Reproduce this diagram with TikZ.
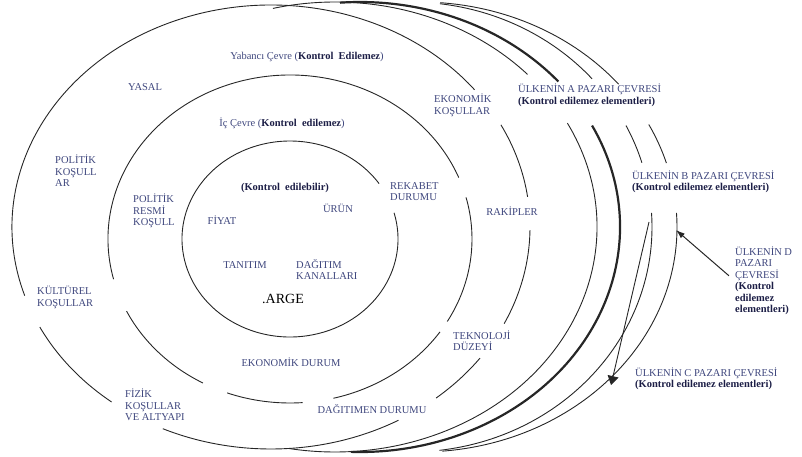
\documentclass[tikz,border=0pt]{standalone}
\usepackage{fontspec}
\setmainfont{Liberation Serif}
\usetikzlibrary{arrows.meta}
\definecolor{lblblue}{RGB}{62,70,125}
\definecolor{lbldark}{RGB}{28,30,70}
\newcommand{\lblsize}{\fontsize{10.5}{11.5}\selectfont}
\newcommand{\kb}[1]{\textcolor{lbldark}{\textbf{#1}}}
\tikzset{
  ring/.style    ={draw=black!85, line width=0.9pt},
  ringbold/.style={ring, line width=2.2pt},
  lbl/.style     ={font=\lblsize, text=lblblue, inner sep=0pt, align=left},
  lblw/.style    ={lbl, anchor=west},
  arr/.style     ={-{Latex[length=9pt,width=6pt]}, draw=black!85, line width=1pt},
  arrc/.style    ={-{Triangle[length=9pt,width=11pt]}, draw=black!85, line width=0.9pt},
}
\begin{document}
\begin{tikzpicture}[x=1pt, y=-1pt]
\useasboundingbox (0,0) rectangle (802,457);
% centres of the rings
\coordinate (cY) at (271,227);
\coordinate (cM) at (290,239);
\coordinate (c1) at (335,227);
\coordinate (c2) at (360,227);
\coordinate (c3) at (410,227);
\coordinate (c4) at (420,227);

% inner ring (kontrol edilebilir)
\draw[ring] (cM) ++(-15.5:108 and 98) arc[start angle=-15.5, end angle=325.6, x radius=108, y radius=98];

% ic cevre
\draw[ring] (cM) ++(-14.7:182 and 164) arc[start angle=-14.7, end angle=30.2, x radius=182, y radius=164];
\draw[ring] (cM) ++(34.5:182 and 164) arc[start angle=34.5, end angle=76.2, x radius=182, y radius=164];
\draw[ring] (cM) ++(86:182 and 164) arc[start angle=86, end angle=110.2, x radius=182, y radius=164];
\draw[ring] (cM) ++(118.6:182 and 164) arc[start angle=118.6, end angle=153.9, x radius=182, y radius=164];
\draw[ring] (cM) ++(165.8:182 and 164) arc[start angle=165.8, end angle=338, x radius=182, y radius=164];

% yabanci cevre
\draw[ring] (cY) ++(162:259 and 222) arc[start angle=162, end angle=321.8, x radius=259, y radius=222];
\draw[ring] (cY) ++(-27.4:259 and 222) arc[start angle=-27.4, end angle=-7.8, x radius=259, y radius=222];
\draw[ring] (cY) ++(0.8:259 and 222) arc[start angle=0.8, end angle=25.8, x radius=259, y radius=222];
\draw[ring] (cY) ++(36.2:259 and 222) arc[start angle=36.2, end angle=50.4, x radius=259, y radius=222];
\draw[ring] (cY) ++(60.5:259 and 222) arc[start angle=60.5, end angle=114.7, x radius=259, y radius=222];
\draw[ring] (cY) ++(128:259 and 222) arc[start angle=128, end angle=153.2, x radius=259, y radius=222];

% pazar cevreleri
\draw[ring] (c1) ++(-103.7:262 and 225) arc[start angle=-103.7, end angle=-42.7, x radius=262, y radius=225];
\draw[ring] (c1) ++(-27.5:262 and 225) arc[start angle=-27.5, end angle=100, x radius=262, y radius=225];
\draw[ringbold] (c2) ++(-94.4:260 and 225) arc[start angle=-94.4, end angle=-40.3, x radius=260, y radius=225];
\draw[ringbold] (c2) ++(-26.8:260 and 225) arc[start angle=-26.8, end angle=92, x radius=260, y radius=225];
\draw[ring] (c3) ++(-82.9:242 and 225) arc[start angle=-82.9, end angle=-41.2, x radius=242, y radius=225];
\draw[ring] (c3) ++(-26.8:242 and 225) arc[start angle=-26.8, end angle=-16.6, x radius=242, y radius=225];
\draw[ring] (c3) ++(-3.6:242 and 225) arc[start angle=-3.6, end angle=83, x radius=242, y radius=225];
\draw[ring] (c4) ++(-85.5:257 and 225) arc[start angle=-85.5, end angle=-39.4, x radius=257, y radius=225];
\draw[ring] (c4) ++(-27.1:257 and 225) arc[start angle=-27.1, end angle=-16.5, x radius=257, y radius=225];
\draw[ring] (c4) ++(-3.6:257 and 225) arc[start angle=-3.6, end angle=85, x radius=257, y radius=225];

% labels
\node[lbl] (yab) at (307,57) {Yabancı Çevre (\kb{Kontrol\ \ Edilemez})};
\node[lbl] (yasal) at (145,87) {YASAL};
\node[lbl] (ic) at (282,123) {İç Çevre (\kb{Kontrol\ \ edilemez})};
\node[lblw] (polk) at (55,171) {POLİTİK\\KOŞULL\\AR};
\node[lblw] (polr) at (133,211) {POLİTİK\\RESMİ\\KOŞULL};
\node[lbl] (kont) at (285,188) {\kb{(Kontrol\ \ edilebilir)}};
\node[lbl] (urun) at (338,208) {ÜRÜN};
\node[lbl] (fiyat) at (222,220) {FİYAT};
\node[lblw] (rekabet) at (390,191.5) {REKABET\\DURUMU};
\node[lbl] (rakip) at (512,211) {RAKİPLER};
\node[lblw] (ekon) at (434,105.5) {EKONOMİK\\KOŞULLAR};
\node[lblw] (alb) at (518,95.5) {ÜLKENİN A PAZARI ÇEVRESİ\\\kb{(Kontrol edilemez elementleri)}};
\node[lblw] (blb) at (632,182) {ÜLKENİN B PAZARI ÇEVRESİ\\\kb{(Kontrol edilemez\ elementleri)}};
\node[lblw] (dlb) at (735,281) {ÜLKENİN D\\PAZARI\\ÇEVRESİ\\\kb{(Kontrol}\\\kb{edilemez}\\\kb{elementleri)}};
\node[lblw] (clb) at (635,379) {ÜLKENİN C PAZARI ÇEVRESİ\\\kb{(Kontrol edilemez\ elementleri)}};
\node[lbl] (tanitim) at (245,265) {TANITIM};
\node[lblw] (dagitim) at (296,269.5) {DAĞITIM\\KANALLARI};
\node[lbl, font=\fontsize{14}{16}\selectfont, text=black] (arge) at (283,299) {.ARGE};
\node[lblw] (kultur) at (37,297.5) {KÜLTÜREL\\KOŞULLAR};
\node[lbl] (ekdur) at (291,362) {EKONOMİK DURUM};
\node[lblw] (tekno) at (453,340.5) {TEKNOLOJİ\\DÜZEYİ};
\node[lblw] (fizik) at (125,405) {FİZİK\\KOŞULLAR\\VE ALTYAPI};
\node[lbl] (dagdur) at (372,409) {DAĞITIMEN DURUMU};

% arrows to the outer markets
\coordinate (dtip) at (676,230);
\coordinate (ctop) at (649,222);
\coordinate (ctip) at (611,385);
\draw[arr, shorten <=8pt] (dlb.west) -- (dtip);
\draw[arrc] (ctop) -- (ctip);
\end{tikzpicture}
\end{document}
